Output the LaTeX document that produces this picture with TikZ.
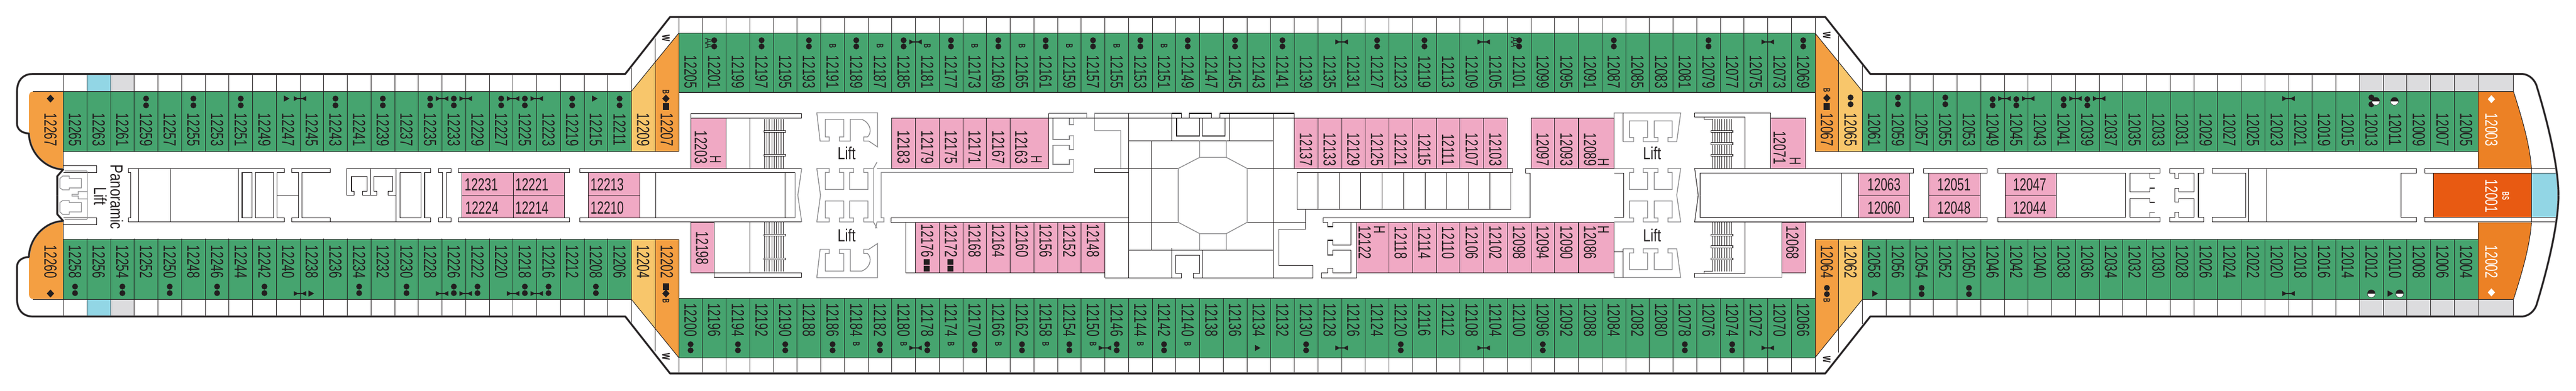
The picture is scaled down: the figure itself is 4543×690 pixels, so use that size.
\documentclass[tikz,border=0pt]{standalone}
\usepackage{fontspec}
\setmainfont{Liberation Sans}
\newfontfamily\cabf[FakeStretch=0.68]{Liberation Sans}
\newfontfamily\liftf[FakeStretch=0.77]{Liberation Sans}
\newfontfamily\tagf[FakeStretch=0.6]{Liberation Sans Bold}
\definecolor{ink}{HTML}{231F20}
\definecolor{cgreen}{HTML}{46A46F}
\definecolor{corange}{HTML}{F49F42}
\definecolor{clight}{HTML}{F8C66B}
\definecolor{cpink}{HTML}{F0A9C4}
\definecolor{cblue}{HTML}{92D6E5}
\definecolor{cgrey}{HTML}{DCDCDE}
\definecolor{cdeep}{HTML}{EC8125}
\definecolor{cdark}{HTML}{E85A12}
\definecolor{wallgrey}{HTML}{8A8A8C}
\tikzset{
  thin line/.style={draw=ink,line width=1pt},
  wall/.style={draw=ink,line width=1.1pt,line join=miter},
  greywall/.style={draw=wallgrey,line width=1.4pt},
  cab/.style={rotate=-90,inner sep=0pt,text=ink,font=\cabf\fontsize{31}{31}\selectfont},
  flat/.style={inner sep=0pt,text=ink,font=\cabf\fontsize{31}{31}\selectfont},
  hlabel/.style={rotate=-90,inner sep=0pt,text=ink,font=\cabf\fontsize{28}{28}\selectfont},
  tag/.style={rotate=-90,inner sep=0pt,text=ink,font=\tagf\fontsize{17}{17}\selectfont},
  wtag/.style={rotate=-90,inner sep=0pt,text=ink,font=\tagf\fontsize{25}{25}\selectfont},
  aatag/.style={rotate=-90,inner sep=0pt,text=ink,font=\cabf\fontsize{20}{20}\selectfont},
  liftlabel/.style={inner sep=0pt,text=ink,font=\liftf\fontsize{31}{31}\selectfont},
  mirror/.style={shift={(0,689)},yscale=-1},
  pinkbox/.style={fill=cpink,draw=ink,line width=1pt},
}
\newcommand\Kx[1]{(111.5+41.75*(#1))}
\newcommand\cabrow[3]{\foreach \lab [count=\i from #2] in {#3}{\node[cab] (c\lab) at ({111.5+41.75*(\i+.5)},#1) {\lab};}}
\newcommand\dotpair[3]{\foreach \k in {#3}{\fill[ink] ({111.5+41.75*(\k+.5)},#1) circle (5.2pt) ({111.5+41.75*(\k+.5)},#2) circle (5.2pt);}}
\newcommand\ibeams[2]{\foreach \k in {#2}{\fill[ink] ({\Kx{\k}-11},#1-4.4)--({\Kx{\k}-5},#1-1.2)--({\Kx{\k}+5},#1-1.2)--({\Kx{\k}+11},#1-4.4)--({\Kx{\k}+11},#1+4.4)--({\Kx{\k}+5},#1+1.2)--({\Kx{\k}-5},#1+1.2)--({\Kx{\k}-11},#1+4.4)--cycle;}}
\newcommand\tri[2]{\fill[ink] (#1-5,#2-5.5)--(#1+5,#2)--(#1-5,#2+5.5)--cycle;}
\newcommand\dmd[3]{\fill[#3] (#1,#2-7)--(#1+6.5,#2)--(#1,#2+7)--(#1-6.5,#2)--cycle;}
\newcommand\halfeye[2]{\fill[white,draw=ink,line width=.5pt] (#1-7,#2) .. controls (#1-7,#2+9.3) and (#1+7,#2+9.3) .. (#1+7,#2)--cycle;
  \fill[ink] (#1-7,#2) .. controls (#1-7,#2-9.3) and (#1+7,#2-9.3) .. (#1+7,#2)--cycle;}
\newcommand\tagsB[2]{\foreach \k in {#2}{\node[tag] at ({111.5+41.75*(\k+.5)},#1) {B};}}
\newcommand\stairs[4]{\foreach \sx in {0,1,...,#4}{\draw[ink,line width=.8pt] ({#1+(#2-#1)*\sx/#4},#3)--({#1+(#2-#1)*\sx/#4},297.3);}}
\newcommand\liftpair[0]{%
 % lift block beside the aft stair
 \draw[greywall,fill=white] (1440.5,199)--(1547.6,199)--(1547.6,259.3)--(1532.1,249)--(1523.4,249)--(1523.4,241.7)--(1529.7,241.7) .. controls (1537.4,236) and (1537.4,218) .. (1520,210.7)--(1499.6,210.7)--(1499.6,249)--(1480.3,249)--(1480.3,241.7)--(1488,241.7)--(1488,210.7)--(1455.5,210.7)--(1455.5,241.7)--(1462.3,241.7)--(1462.3,249)--(1446.3,249)--cycle;
 \draw[greywall] (1447,344.5)--(1440.5,297.3)--(1462.3,297.3)--(1462.3,304.3)--(1455.5,304.3)--(1455.5,334.3)--(1488,334.3)--(1488,304.3)--(1480.3,304.3)--(1480.3,297.3)--(1505.5,297.3)--(1505.5,304.3)--(1498.2,304.3)--(1498.2,334.3)--(1530.7,334.3)--(1530.7,304.3)--(1523.4,304.3)--(1523.4,297.3)--(1540.4,297.3)--(1546.7,286);
 \draw[greywall] (1540.4,297.3)--(1540.4,344.5);
 % lift block beside the forward stair
 \draw[greywall] (2862.6,250)--(2881,250)--(2881,242.7)--(2873.8,242.7)--(2873.8,213.3)--(2905.7,213.3)--(2905.7,242.7)--(2898,242.7)--(2898,250)--(2924,250)--(2924,242.7)--(2917.4,242.7)--(2917.4,213.3)--(2949,213.3)--(2949,242.7)--(2941.6,242.7)--(2941.6,250)--(2957,250)--(2964,199.3)--(2846.6,199.3)--(2846.6,208.3);
 \draw[wall] (2862.6,199.3)--(2862.6,250);
 \draw[greywall] (2846.6,297.3)--(2881,297.3)--(2881,304.3)--(2873.8,304.3)--(2873.8,334.3)--(2905.7,334.3)--(2905.7,304.3)--(2898,304.3)--(2898,297.3)--(2924,297.3)--(2924,304.3)--(2917.4,304.3)--(2917.4,334.3)--(2949,334.3)--(2949,304.3)--(2941.6,304.3)--(2941.6,297.3)--(2964,297.3)--(2957,344.5);
 \draw[wall] (2846.6,305.3)--(2863.6,305.3)--(2863.6,344.5);
}
\newcommand\halfplan[0]{%
 \draw[wall] (170.6,304.3)--(170.6,292.3)--(111.5,292.3) (170.6,304.3)--(111.5,304.3);
 \draw[greywall,line width=1.2pt] (113.9,301.7)--(152.7,301.7)--(154.1,303.3)--(154.1,344.5) (127,344.5)--(127,343)--(138,343)--(138,338)--(154.1,338);
 \draw[greywall,line width=1.2pt] (105.7,315)--(110.5,310.7)--(122.1,310.7)--(122.1,315)--(143.5,315)--(143.5,331.7)--(122.1,331.7)--(122.1,335)--(110.5,335)--(105.7,331.7)--cycle;
 \draw[wall] (230.7,344.5)--(230.7,304.3)--(226.8,304.3)--(226.8,297.3)--(501.7,297.3)--(501.7,304.3)--(488.6,304.3)--(488.6,344.5);
 \draw[wall] (244.3,297.3)--(244.3,344.5) (300.5,297.3)--(300.5,344.5) (420.7,297.3)--(420.7,344.5);
 \draw[wall] (427,344.5)--(427,304.3)--(444.5,304.3)--(444.5,344.5) (450.3,344.5)--(450.3,304.3)--(482.8,304.3)--(482.8,344.5);
 \draw[wall] (526.4,344.5)--(526.4,304.3)--(514.3,304.3)--(514.3,297.3)--(582.6,297.3)--(582.6,304.3)--(532.7,304.3)--(532.7,344.5);
 \draw[wall] (787.6,344.5)--(787.6,304.3)--(795.4,304.3)--(795.4,297.3)--(773.6,297.3)--(773.6,304.3)--(780.4,304.3)--(780.4,344.5);
 \draw[wall] (808.5,297.3) rectangle (1004.3,304.3);
 \draw[wall] (1156.5,304.3)--(1156.5,344.5) (1384.3,304.3)--(1384.3,344.5);
 \draw[wall] (1022.2,304.3)--(1022.2,297.3)--(1413.9,297.3);
 \draw[wall] (1022.2,304.3)--(1402.2,304.3);
 \draw[greywall] (1413.9,297.3)--(1407,344.5) (1402.2,304.3)--(1402.2,344.5);
 \draw[wall] (1322.8,208.3)--(1322.8,297.3);
 \stairs{1348.4}{1381.8}{210}{8}
 \foreach \yy in {231.7,274.3}{\draw[wall,fill=white] (1347.5,\yy-1.6) rectangle (1385.7,\yy+1.6);}
 \liftpair
 \draw[wall] (3077.8,206.7)--(3077.8,297.3) (3005.6,206.7)--(3077.8,206.7) (2988.6,199.3)--(2988.6,206.7)--(3005.6,206.7)--(3005.6,210.7)--(3020,210.7);
 \stairs{3020}{3053.6}{210}{8}
 \foreach \yy in {231.7,253.5,274.3}{\draw[wall,fill=white] (3017.7,\yy-1.6) rectangle (3056,\yy+1.6);}
 \draw[wall] (2995,344.5)--(2988.6,297.3)--(3374.4,297.3)--(3374.4,305.3)--(2998.2,305.3)--(2998.2,344.5);
 \draw[wall] (3247.5,305.3)--(3247.5,344.5);
 \draw[wall] (3392.4,297.3) rectangle (3504.3,305.3);
 \draw[wall] (3748.6,344.5)--(3748.6,305.3)--(3523.7,305.3)--(3523.7,297.3)--(3809.5,297.3)--(3809.5,305.3)--(3756.4,305.3)--(3756.4,338.3)--(3791.3,338.3)--(3791.3,332)--(3800,332) (3791.3,305.3)--(3791.3,314.3)--(3800,314.3);
 \draw[wall] (3877,344.5)--(3877,305.3)--(3886.7,305.3)--(3886.7,297.3)--(3826.5,297.3)--(3826.5,305.3)--(3835.5,305.3)--(3835.5,314.3)--(3842.6,314.3)--(3842.6,305.3)--(3869.7,305.3)--(3869.7,338.3)--(3842.6,338.3)--(3842.6,332.3)--(3835.5,332.3)--(3835.5,344.5);
 \draw[wall] (3960.2,344.5)--(3960.2,305.3)--(3901.4,305.3)--(3901.4,297.3)--(4261.6,297.3)--(4261.6,305.3)--(4234.5,305.3)--(4234.5,344.5);
 \draw[wall] (3965.4,297.3)--(3965.4,344.5) (3997.6,297.3)--(3997.6,344.5);
 \draw[wall] (4276.7,297.3) rectangle (4509,305.3);
 \draw[wall] (4464.4,297.3)--(4464.4,305.3);
}
\newcommand\hullhalf[1]{%
 \draw[#1,line join=round] (101,344.5)--(101,311)--(111.5,299) .. controls (80,298) and (52,270) .. (51,235.5) .. controls (38,235) and (30,228) .. (30,218)--(30,162) .. controls (30,142) and (40,130.5) .. (58,130.5)--(1102.7,130.5)--(1181.7,30)--(3219,30)--(3298.4,130.5)--(4449,130.5) .. controls (4462,132) and (4470,142) .. (4473,150) .. controls (4490,205) and (4512,290) .. (4512,344.5);}
\begin{document}
\begin{tikzpicture}[x=1pt,y=-1pt]
\useasboundingbox (0,0) rectangle (4543,690);
\fill[white] (0,0) rectangle (4543,690);
% ---------- cabin colour fields
\fill[cgreen] (111.5,162) rectangle ({\Kx{24}},267);
\fill[cgreen] (111.5,422.5) rectangle ({\Kx{24}},528.3);
\fill[cgreen] ({\Kx{26}},58.5) rectangle ({\Kx{74}},163);
\fill[cgreen] ({\Kx{26}},526.7) rectangle ({\Kx{74}},631);
\fill[cgreen] ({\Kx{76}},162) rectangle ({\Kx{102}},267);
\fill[cgreen] ({\Kx{76}},422.5) rectangle ({\Kx{102}},528.3);
% orange corner suites
\fill[corange] (58,161.5) .. controls (54,161.5) and (51,165) .. (51,170)--(51,235.5) .. controls (52,270) and (80,298) .. (111.5,299)--(111.5,161.5)--cycle;
\fill[corange] (58,527.5) .. controls (54,527.5) and (51,524) .. (51,519)--(51,453.5) .. controls (52,419) and (80,391) .. (111.5,390)--(111.5,527.5)--cycle;
\fill[clight] ({\Kx{24}},161)--({\Kx{25}},110)--({\Kx{25}},267)--({\Kx{24}},267)--cycle;
\fill[corange] ({\Kx{25}},110)--({\Kx{26}},58.5)--({\Kx{26}},267)--({\Kx{25}},267)--cycle;
\fill[clight] ({\Kx{24}},422.5)--({\Kx{25}},422.5)--({\Kx{25}},579.3)--({\Kx{24}},528.3)--cycle;
\fill[corange] ({\Kx{25}},422.5)--({\Kx{26}},422.5)--({\Kx{26}},631)--({\Kx{25}},579.3)--cycle;
\fill[corange] ({\Kx{74}},58.5)--({\Kx{75}},110)--({\Kx{75}},267)--({\Kx{74}},267)--cycle;
\fill[clight] ({\Kx{75}},110)--({\Kx{76}},161)--({\Kx{76}},267)--({\Kx{75}},267)--cycle;
\fill[corange] ({\Kx{74}},422.5)--({\Kx{75}},422.5)--({\Kx{75}},580)--({\Kx{74}},631)--cycle;
\fill[clight] ({\Kx{75}},422.5)--({\Kx{76}},422.5)--({\Kx{76}},528.3)--({\Kx{75}},580)--cycle;
\draw[thin line] ({\Kx{24}},161)--({\Kx{26}},58.5) ({\Kx{24}},528.3)--({\Kx{26}},631) ({\Kx{74}},58.5)--({\Kx{76}},161) ({\Kx{74}},631)--({\Kx{76}},528.3);
% balcony tints
\fill[cblue] ({\Kx{1}},130.5) rectangle ({\Kx{2}},162);
\fill[cgrey] ({\Kx{2}},130.5) rectangle ({\Kx{3}},162);
\fill[cblue] ({\Kx{1}},528.3) rectangle ({\Kx{2}},558.5);
\fill[cgrey] ({\Kx{2}},528.3) rectangle ({\Kx{3}},558.5);
\fill[cgrey] ({\Kx{97}},130.5) rectangle (4432.7,161.5);
\fill[cgrey] ({\Kx{97}},528.3) rectangle (4432.7,558.5);
% bow suites
\fill[cdeep] ({\Kx{102}},161.5)--(4432.7,161.5) .. controls (4450,215) and (4462,260) .. (4464.4,297.3)--({\Kx{102}},297.3)--cycle;
\fill[cdeep] ({\Kx{102}},392.7)--(4464.4,392.7) .. controls (4462,430) and (4450,475) .. (4432.7,528.3)--({\Kx{102}},528.3)--cycle;
\draw[thin line] (4432.7,161.5) .. controls (4450,215) and (4462,260) .. (4464.4,297.3) (4464.4,392.7) .. controls (4462,430) and (4450,475) .. (4432.7,528.3);
\fill[cdark] (4291.4,305.3) rectangle (4464.4,384.3);
\fill[cblue] (4464.4,305.3) rectangle (4511,384.3);
\draw[thin line] (4291.4,305.3)--(4291.4,384.3) (4464.4,305.3)--(4464.4,384.3);
% ---------- grid lines
\foreach \k in {0,...,23}{\draw[thin line] ({\Kx{\k}},130.5)--({\Kx{\k}},267) ({\Kx{\k}},421)--({\Kx{\k}},558.5);}
\foreach \k in {77,...,101}{\draw[thin line] ({\Kx{\k}},130.5)--({\Kx{\k}},267) ({\Kx{\k}},422.5)--({\Kx{\k}},558.5);}
\foreach \k in {27,...,73}{\draw[thin line] ({\Kx{\k}},30)--({\Kx{\k}},163) ({\Kx{\k}},526.7)--({\Kx{\k}},659);}
\draw[thin line] ({\Kx{24}},117)--({\Kx{24}},267) ({\Kx{25}},68)--({\Kx{25}},267) ({\Kx{26}},30)--({\Kx{26}},267);
\draw[thin line] ({\Kx{24}},422.5)--({\Kx{24}},572) ({\Kx{25}},422.5)--({\Kx{25}},620) ({\Kx{26}},422.5)--({\Kx{26}},659);
\draw[thin line] ({\Kx{74}},30)--({\Kx{74}},267) ({\Kx{75}},62)--({\Kx{75}},267) ({\Kx{76}},115)--({\Kx{76}},267);
\draw[thin line] ({\Kx{74}},422.5)--({\Kx{74}},659) ({\Kx{75}},422.5)--({\Kx{75}},622) ({\Kx{76}},422.5)--({\Kx{76}},572);
\draw[thin line] ({\Kx{102}},130.5)--({\Kx{102}},297.3) ({\Kx{102}},392.7)--({\Kx{102}},558.5) (4432.7,130.5)--(4432.7,161.5) (4432.7,528.3)--(4432.7,558.5);
% row edges
\draw[thin line] (58,161.5)--({\Kx{24}},161.5) (111.5,267)--({\Kx{26}},267) ({\Kx{26}},58.5)--({\Kx{74}},58.5) ({\Kx{26}},163)--({\Kx{74}},163) ({\Kx{74}},267)--({\Kx{102}},267) ({\Kx{76}},161.5)--(4432.7,161.5);
\draw[thin line] (111.5,422.5)--({\Kx{26}},422.5) (58,528.3)--({\Kx{24}},528.3) ({\Kx{26}},526.7)--({\Kx{74}},526.7) ({\Kx{26}},631)--({\Kx{74}},631) ({\Kx{74}},422.5)--({\Kx{102}},422.5) ({\Kx{76}},528.3)--(4432.7,528.3);
\draw[thin line] (111.5,161.5)--(111.5,299) (111.5,390)--(111.5,528.3);
% ---------- interior walls shared by both sides
\halfplan
\begin{scope}[mirror]\halfplan\end{scope}
% ---------- interior walls on one side only
\draw[wall] (488.6,344.3)--(526.4,344.3);
\draw[wall] (759.9,297.3)--(611.7,297.3)--(611.7,344.3)--(624.3,344.3)--(624.3,337.3)--(620,337.3)--(620,311.7)--(647.5,311.7)--(647.5,337.3)--(639.8,337.3)--(639.8,344.3)--(664.5,344.3)--(664.5,337.3)--(659.7,337.3)--(659.7,311.7)--(692.6,311.7)--(692.6,337.3)--(684.4,337.3)--(684.4,344.3)--(698.5,344.3);
\draw[wall] (653.4,297.3)--(653.4,344.3) (698.5,297.3)--(698.5,391.7) (582.6,391.7)--(759.9,391.7)--(759.9,384.7)--(749,384.7)--(749,304.3)--(759.9,304.3)--(759.9,297.3);
\draw[wall] (705.2,304.3) rectangle (742.5,384.3);
\draw[wall] (1218.5,200.3) rectangle (1413.4,208.3);
\draw[wall] (1259.7,481.3) rectangle (1413.4,489.3);
% aft centre
\draw[greywall] (1546.7,297.3)--(1849.6,297.3) (1893.2,304.3)--(1554,304.3)--(1554,384.3)--(1558.8,384.3)--(1558.8,391.7)--(1546.7,391.7)--(1544,403);
\draw[greywall] (1849.6,200)--(1916.5,200)--(1916.5,208.3)--(1893.2,208.3)--(1893.2,220)--(1886,220)--(1886,208.3)--(1856.9,208.3)--(1856.9,246)--(1886,246)--(1886,239.3)--(1893.2,239.3)--(1893.2,264)--(1886,264)--(1886,256.7)--(1856.9,256.7)--(1856.9,290)--(1886,290)--(1886,281.7)--(1893.2,281.7)--(1893.2,304.3);
\draw[wall] (1849.6,200)--(1849.6,208.3);
\draw[greywall] (1976.6,297.3)--(1976.6,230.7)--(1930.5,230.7)--(1930.5,200)--(2066.7,200);
\draw[wall] (1930.5,297.3) rectangle (1990.6,304.3);
\draw[wall] (1990.6,200)--(1990.6,490.3) (1990.6,208.3)--(2066.7,208.3) (2066.7,200)--(2066.7,248.3) (2168.5,200)--(2168.5,248.3) (1990.6,248.3)--(2245.6,248.3) (2245.6,200)--(2245.6,490.3);
\draw[wall] (2066.7,200)--(2083.2,200)--(2083.2,208.3)--(2075,208.3)--(2075,240)--(2115.7,240)--(2115.7,208.3)--(2097.8,208.3)--(2097.8,200)--(2136.5,200)--(2136.5,208.3)--(2120.5,208.3)--(2120.5,240)--(2160.3,240)--(2160.3,208.3)--(2151.6,208.3)--(2151.6,200)--(2282.4,200)--(2282.4,208.3);
\draw[wall] (2030.4,248.3)--(2030.4,441.3) (1990.6,297.3)--(2077.9,297.3) (1990.6,392.3)--(2077.9,392.3) (2199.5,297.3)--(2280,297.3) (2199.5,392.3)--(2302.3,392.3);
\draw[greywall] (2115.7,248.3)--(2115.7,277.7)--(2077.9,297.3)--(2077.9,392.3)--(2115.7,412.3)--(2115.7,441.3) (2162.7,248.3)--(2162.7,277.7)--(2199.5,297.3)--(2199.5,392.3)--(2162.7,412.3)--(2162.7,441.3) (2115.7,277.7)--(2162.7,277.7) (2115.7,412.3)--(2162.7,412.3);
\draw[wall] (1990.6,441.3)--(2245.6,441.3) (2066.7,438)--(2066.7,490.3) (1948.5,490.3)--(2083.7,490.3)--(2083.7,482.3)--(2073.5,482.3)--(2073.5,450.3)--(2115.7,450.3)--(2115.7,482.3)--(2104.6,482.3)--(2104.6,490.3)--(2315.4,490.3)--(2315.4,468.3)--(2255.3,468.3)--(2255.3,404.3)--(2302.3,404.3)--(2302.3,369.3);
\draw[wall] (2120.5,441.3)--(2120.5,490.3);
% staircase block and side corridors of the centre
\draw[wall] (2280,297.3)--(2667.8,297.3)--(2667.8,304.3)--(2287.3,304.3)--(2287.3,369.3)--(2664.4,369.3)--(2664.4,304.3);
\foreach \sx in {2324.6,2362.4,2399.7,2437.5,2475.3,2513.6,2551.4,2589.7,2627.5}{\draw[wall] (\sx,304.3)--(\sx,369.3);}
\draw[wall] (2690.5,297.3)--(2690.5,305.3)--(2698.3,305.3)--(2698.3,384.3)--(2333.3,384.3)--(2333.3,392.3)--(2341.6,392.3)--(2341.6,400)--(2350.3,400)--(2350.3,392.3)--(2382.8,392.3)--(2382.8,432.3)--(2350.3,432.3)--(2350.3,424)--(2341.6,424)--(2341.6,450)--(2350.3,450)--(2350.3,441.3)--(2382.8,441.3)--(2382.8,481.3)--(2350.3,481.3)--(2350.3,473.3)--(2341.6,473.3)--(2341.6,481.3)--(2330.9,481.3)--(2330.9,490.3)--(2392.4,490.3)--(2392.4,392.3)--(2350.3,392.3);
\draw[wall] (2690.5,297.3)--(2846.6,297.3);
% rooms beside forward stairs
\draw[wall] (2846.6,444.3)--(2862.6,444.3) (2846.6,444.3)--(2846.6,481);
\draw[wall] (2988.6,199.3)--(3122.4,199.3)--(3122.4,208.3);
\draw[greywall] (2988.6,489.7)--(3142.3,489.7)--(3142.3,481.3);
% ---------- pink cabins
\foreach \px/\py/\qx/\qy in {814.3/304.3/905.4/344.3,905.4/304.3/995.6/344.3,814.3/344.3/905.4/384.3,905.4/344.3/995.6/384.3,1037.7/304.3/1128.4/344.3,1037.7/344.3/1128.4/384.3,1218.5/208.3/1280.6/297.3,1218.5/392.3/1259.7/481.3,3122.4/208.3/3184/297.3,3142.3/392.3/3184/481.3,3277/305.3/3367.7/345,3277/345/3367.7/384.3,3401.6/305.3/3492.7/345,3401.6/345/3492.7/384.3,3536.3/305.3/3626.5/345,3536.3/345/3626.5/384.3,1781.5/208.3/1849.6/297.3,2784.6/208.3/2846.6/297.3,2392.4/392.3/2449.6/481.3,2784.6/392.3/2846.6/481.3}{\draw[pinkbox] (\px,\py) rectangle (\qx,\qy);}
\foreach \k in {35,...,39,52,53,...,60,62,63}{\draw[pinkbox] ({\Kx{\k}},208.3) rectangle ({\Kx{\k+1}},297.3);}
\foreach \k in {36,...,43,56,57,...,63}{\draw[pinkbox] ({\Kx{\k}},392.3) rectangle ({\Kx{\k+1}},481.3);}
\draw[wall] ({\Kx{36}},392.3)--(1597.6,392.3)--(1597.6,481.3)--({\Kx{36}},481.3);
\draw[wall] (1571.4,384.3)--(1990.6,384.3) (1571.4,392.3)--(1990.6,392.3) (1571.4,384.3)--(1571.4,392.3);
\draw[wall] (1948.5,481.3)--(1948.5,490.3);
\draw[wall] (1849.6,208.3)--({\Kx{52}},208.3);
% ---------- hull
\hullhalf{wallgrey,line width=3.8pt}
\begin{scope}[mirror]\hullhalf{wallgrey,line width=3.8pt}\end{scope}
\hullhalf{ink,line width=2.6pt}
\begin{scope}[mirror]\hullhalf{ink,line width=2.6pt}\end{scope}
% ---------- cabin numbers
\cabrow{229}{0}{12265,12263,12261,12259,12257,12255,12253,12251,12249,12247,12245,12243,12241,12239,12237,12235,12233,12229,12227,12225,12223,12219,12215,12211}
\cabrow{462}{0}{12258,12256,12254,12252,12250,12248,12246,12244,12242,12240,12238,12236,12234,12232,12230,12228,12226,12222,12220,12218,12216,12212,12208,12206}
\cabrow{127}{26}{12205,12201,12199,12197,12195,12193,12191,12189,12187,12185,12181,12177,12173,12169,12165,12161,12159,12157,12155,12153,12151,12149,12147,12145,12143,12141,12139,12135,12131,12127,12123,12119,12113,12109,12105,12101,12099,12095,12091,12087,12085,12083,12081,12079,12077,12075,12073,12069}
\cabrow{564.5}{26}{12200,12196,12194,12192,12190,12188,12186,12184,12182,12180,12178,12174,12170,12166,12162,12158,12154,12150,12146,12144,12142,12140,12138,12136,12134,12132,12130,12128,12126,12124,12120,12116,12112,12108,12104,12100,12096,12092,12088,12084,12082,12080,12078,12076,12074,12072,12070,12066}
\cabrow{229}{76}{12061,12059,12057,12055,12053,12049,12045,12043,12041,12039,12037,12035,12033,12031,12029,12027,12025,12023,12021,12019,12015,12013,12011,12009,12007,12005}
\cabrow{462}{76}{12058,12056,12054,12052,12050,12046,12042,12040,12038,12036,12034,12032,12030,12028,12026,12024,12022,12020,12018,12016,12014,12012,12010,12008,12006,12004}
\cabrow{229}{24}{12209,12207}
\cabrow{462}{24}{12204,12202}
\cabrow{229}{74}{12067,12065}
\cabrow{462}{74}{12064,12062}
\node[cab] (c12267) at (89,229) {12267};
\node[cab] (c12260) at (89,462) {12260};
\node[cab,text=white] (c12003) at (4393.8,229) {12003};
\node[cab,text=white] (c12002) at (4393.8,462) {12002};
\node[cab,text=white] (c12001) at (4393.8,346) {12001};
% pink numbers
\cabrow{259.7}{35}{12183,12179,12175,12171,12167}
\node[cab] (c12163) at (1801,259.7) {12163};
\cabrow{264}{52}{12137,12133,12129,12125,12121,12115,12111,12107,12103}
\cabrow{264}{62}{12097,12093,12089}
\cabrow{425}{36}{12176,12172,12168,12164,12160,12156,12152,12148}
\cabrow{428.3}{56}{12118,12114,12110,12106,12102,12098,12094,12090,12086}
\node[cab] (c12122) at (2407,428.3) {12122};
\node[cab] (c12203) at (1236,259.7) {12203};
\node[cab] (c12198) at (1238.4,438) {12198};
\node[cab] (c12071) at (3138.4,260.5) {12071};
\node[cab] (c12068) at (3161,428.3) {12068};
\foreach \lab/\px/\py in {12231/848.7/325.8,12221/937.9/325.8,12224/849.7/366.7,12214/937.9/366.7,12213/1070.7/325.8,12210/1070.7/366.7,12063/3322.6/325.8,12060/3322.6/366.7,12051/3446/325.8,12048/3446/366.7,12047/3579.5/325.8,12044/3579.5/366.7}{\node[flat] (c\lab) at (\px,\py) {\lab};}
\foreach \px/\py in {1261.7/281.7,1827.8/281.7,2827.7/286.7,3166/284,2432.7/405,2827.7/405}{\node[hlabel] at (\px,\py) {H};}
% lift labels
\node[liftlabel] (lift1) at (1493,270) {Lift};
\node[liftlabel] (lift2) at (1493,415) {Lift};
\node[liftlabel] (lift3) at (2913.5,270) {Lift};
\node[liftlabel] (lift4) at (2913.5,415) {Lift};
\node[liftlabel,rotate=-90] (pan1) at (206,347.7) {Panoramic};
\node[liftlabel,rotate=-90] (pan2) at (177,346) {Lift};
% ---------- symbols
\dotpair{174}{186}{3,5,7,11,13,15,16,18,19,21,23}
\dotpair{505.7}{517.3}{0,2,4,6,8,12,14,16,17,19,20,22}
\dotpair{71}{82}{27,29,31,33,35,37,39,41,43,45,47,49,51,55,57,61,65,69,73}
\dotpair{607.5}{618.3}{26,28,30,32,34,36,38,40,42,44,46,52,56,62,68,70}
\dotpair{172}{184}{75,77,79}
\dotpair{175}{186}{81,82,84,85}
\dotpair{172}{184}{97}
\dotpair{508}{519}{74,78,80}
\ibeams{174}{10,16,17,19,20,82,83,85,86,94}
\ibeams{518}{10,16,17,19,20,94}
\ibeams{74}{36,54,60,72}
\ibeams{614}{36,44,54,60,72}
\tri{505.5}{174}
\tri{1049}{174}
\tri{549}{518}
\tri{2218}{614}
\tri{3307}{518}
\tri{4215.6}{518}
\dmd{89}{174}{ink}
\dmd{89}{518}{ink}
\dmd{1174.4}{174}{ink}
\dmd{1174.4}{518}{ink}
\dmd{3221.8}{173}{ink}
\dmd{4393.8}{175}{white}
\dmd{4393.8}{516}{white}
\fill[ink] (1168.9,182) rectangle (1179.9,193.5);
\fill[ink] (1168.9,500) rectangle (1179.9,511.5);
\fill[ink] (3216.3,182) rectangle (3227.3,193.5);
\foreach \sx in {1634.3,1676.1}{\fill[ink] (\sx-5.3,457.3) rectangle (\sx+5.3,467.3) (\sx-5.3,469) rectangle (\sx+5.3,479);}
\halfeye{4190}{178.5}
\halfeye{4222.7}{178.5}
\halfeye{4181.9}{518}
\halfeye{4232}{518}
\tagsB{80.7}{32,34,36,38,40,42,44,46}
\tagsB{606.7}{33,35,37,39,41,43,45,47}
\node[tag] at (1174.4,161.7) {B};
\node[tag] at (1174.4,531) {B};
\node[tag] at (3221.8,159) {B};
\node[tag] at (3221.8,530.3) {B};
\node[aatag] at (1250.5,76.3) {AA};
\node[aatag] at (2671.6,75) {AA};
\foreach \px/\py in {1174.4/67.7,1174.4/629.3,3221.8/62.3,3221.8/634.3}{\node[wtag] at (\px,\py) {w};}
\node[rotate=-90,inner sep=0pt,text=white,font=\tagf\fontsize{17}{17}\selectfont] at (4419,346) {BS};
\end{tikzpicture}
\end{document}
